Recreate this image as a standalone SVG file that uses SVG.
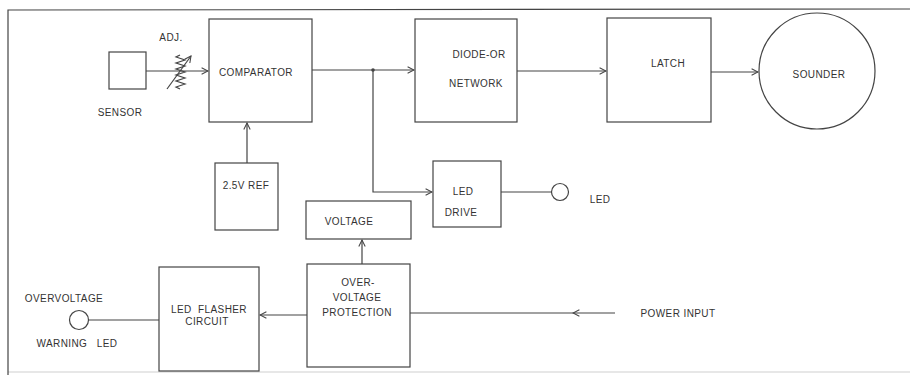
<svg xmlns="http://www.w3.org/2000/svg" width="910" height="375" viewBox="0 0 910 375">
<defs>
<marker id="arr" viewBox="0 0 10 10" refX="9" refY="5" markerWidth="8" markerHeight="8" markerUnits="userSpaceOnUse" orient="auto">
<path d="M1,1 L9,5 L1,9" fill="none" stroke="#444" stroke-width="1.3"/>
</marker>
</defs>
<style>
.box{fill:none;stroke:#444;stroke-width:1.2}
.ln{fill:none;stroke:#444;stroke-width:1.2}
.t{font-family:"Liberation Sans",Arial,sans-serif;font-size:10px;fill:#333;text-anchor:middle;letter-spacing:0.4px;white-space:pre}
</style>
<rect width="910" height="375" fill="#fff"/>
<path class="ln" d="M8,375 L8,10 L910,9"/>
<path class="ln" d="M8,372 L910,372" stroke-opacity="0.25"/>

<g id="sensor">
<rect class="box" x="109" y="52" width="37" height="37"/>
<text class="t" x="120" y="116">SENSOR</text>
</g>
<g id="adj">
<text class="t" x="171" y="41">ADJ.</text>
<path class="ln" d="M180,55 L176,57 L185,60 L176,63 L185,66 L176,69 L185,72 L176,75 L185,78 L176,81 L185,84 L176,87 L180,89" stroke-width="1"/>
<line class="ln" x1="167" y1="89" x2="191" y2="56" marker-end="url(#arr)"/>
</g>
<g id="comparator">
<rect class="box" x="209" y="19" width="103" height="103"/>
<text class="t" x="256" y="76">COMPARATOR</text>
</g>
<g id="ref">
<rect class="box" x="215" y="163" width="63" height="67"/>
<text class="t" x="246" y="189">2.5V REF</text>
</g>
<g id="diode-or">
<rect class="box" x="415" y="19" width="102" height="103"/>
<text class="t" x="479" y="58">DIODE-OR</text>
<text class="t" x="476" y="87">NETWORK</text>
</g>
<g id="latch">
<rect class="box" x="607" y="18" width="104" height="104"/>
<text class="t" x="668" y="67">LATCH</text>
</g>
<g id="sounder">
<circle class="box" cx="817" cy="71" r="58"/>
<text class="t" x="819" y="78">SOUNDER</text>
</g>
<g id="led-drive">
<rect class="box" x="433" y="161" width="68" height="66"/>
<text class="t" x="463" y="195">LED</text>
<text class="t" x="461" y="216">DRIVE</text>
</g>
<g id="led">
<circle class="box" cx="560" cy="192" r="8.5"/>
<text class="t" x="600" y="203">LED</text>
</g>
<g id="voltage">
<rect class="box" x="306" y="201" width="105" height="38"/>
<text class="t" x="349" y="225">VOLTAGE</text>
</g>
<g id="ovp">
<rect class="box" x="307" y="264" width="103" height="103"/>
<text class="t" x="358" y="286">OVER-</text>
<text class="t" x="357" y="301">VOLTAGE</text>
<text class="t" x="357" y="316">PROTECTION</text>
</g>
<g id="flasher">
<rect class="box" x="159" y="267" width="100" height="104"/>
<text class="t" x="209" y="313" xml:space="preserve">LED  FLASHER</text>
<text class="t" x="207" y="325">CIRCUIT</text>
</g>
<g id="ov-led">
<circle class="box" cx="79" cy="320" r="9.5"/>
<text class="t" x="64" y="302">OVERVOLTAGE</text>
<text class="t" x="77" y="347" xml:space="preserve">WARNING   LED</text>
</g>
<g id="power">
<text class="t" x="678" y="317">POWER INPUT</text>
</g>

<g id="connectors">
<line class="ln" x1="146" y1="71" x2="208" y2="71" marker-end="url(#arr)"/>
<line class="ln" x1="247" y1="163" x2="247" y2="123" marker-end="url(#arr)"/>
<line class="ln" x1="312" y1="70" x2="414" y2="70" marker-end="url(#arr)"/>
<circle cx="373" cy="70" r="1.8" fill="#444"/>
<polyline class="ln" points="373,70 373,192 432,192" marker-end="url(#arr)"/>
<line class="ln" x1="517" y1="71" x2="606" y2="71" marker-end="url(#arr)"/>
<line class="ln" x1="711" y1="72" x2="758" y2="72" marker-end="url(#arr)"/>
<line class="ln" x1="501" y1="192" x2="551.5" y2="192"/>
<line class="ln" x1="362" y1="264" x2="362" y2="240" marker-end="url(#arr)"/>
<line class="ln" x1="615" y1="313" x2="573" y2="313" marker-end="url(#arr)"/>
<line class="ln" x1="573" y1="313" x2="410" y2="313"/>
<line class="ln" x1="307" y1="315" x2="260" y2="315" marker-end="url(#arr)"/>
<line class="ln" x1="88.5" y1="320" x2="159" y2="320"/>
</g>
</svg>
